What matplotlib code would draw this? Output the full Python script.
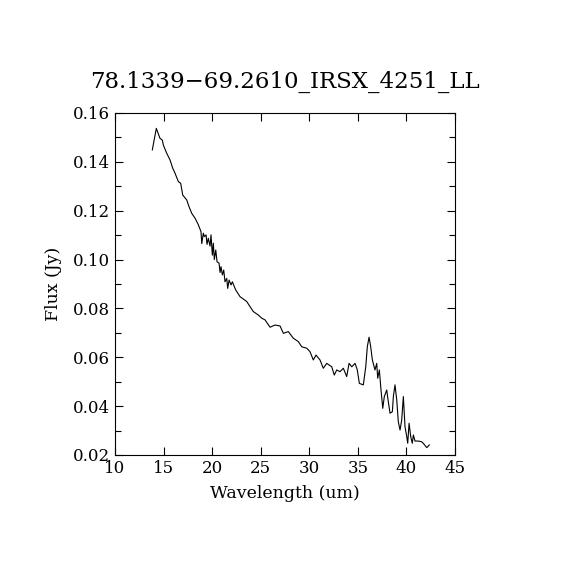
import matplotlib
matplotlib.use("Agg")
import matplotlib.pyplot as plt
from matplotlib.ticker import MultipleLocator

title = "78.1339\u221269.2610_IRSX_4251_LL"

# spectrum
wave = [13.84, 14.25, 14.63, 14.87, 14.97, 15.32, 15.66, 15.94, 16.18, 16.52,
        16.76, 16.97, 17.38, 17.62, 17.90, 18.24, 18.58, 18.85, 18.93, 19.09,
        19.19, 19.37, 19.47, 19.60, 19.78, 19.88, 20.02, 20.12, 20.22, 20.37,
        20.50, 20.71, 20.81, 20.91, 21.05, 21.19, 21.32, 21.50, 21.60, 21.74,
        21.94, 22.08, 22.28, 22.43, 22.87, 23.56, 23.90, 24.24, 24.75, 25.10,
        25.44, 25.96, 26.47, 26.99, 27.33, 27.84, 28.35, 28.87, 29.22, 29.73,
        30.07, 30.41, 30.69, 31.10, 31.44, 31.79, 32.31, 32.57, 32.82, 33.16,
        33.50, 33.85, 34.09, 34.37, 34.71, 34.94, 35.15, 35.56, 35.81, 35.97,
        36.15, 36.32, 36.49, 36.76, 36.94, 37.04, 37.21, 37.38, 37.56, 37.72,
        37.97, 38.13, 38.31, 38.55, 38.65, 38.82, 39.00, 39.16, 39.34, 39.51,
        39.68, 39.85, 40.03, 40.13, 40.27, 40.44, 40.60, 40.71, 40.88, 41.22,
        41.57, 41.81, 42.09, 42.35]
flux = [0.1449, 0.1537, 0.1496, 0.1489, 0.1469, 0.1435, 0.1408, 0.1374, 0.1353, 0.1319,
        0.1312, 0.1264, 0.1244, 0.1216, 0.1189, 0.1169, 0.1142, 0.1114, 0.1065, 0.1108,
        0.1094, 0.1101, 0.1062, 0.1087, 0.1055, 0.1101, 0.1018, 0.1067, 0.1000, 0.1039,
        0.0991, 0.0985, 0.0947, 0.0971, 0.0937, 0.0957, 0.0909, 0.0923, 0.0882, 0.0916,
        0.0896, 0.0909, 0.0889, 0.0875, 0.0848, 0.0828, 0.0807, 0.0787, 0.0773, 0.0760,
        0.0753, 0.0723, 0.0732, 0.0728, 0.0698, 0.0705, 0.0678, 0.0664, 0.0643, 0.0637,
        0.0623, 0.0589, 0.0609, 0.0589, 0.0555, 0.0575, 0.0561, 0.0527, 0.0548, 0.0541,
        0.0555, 0.0521, 0.0575, 0.0561, 0.0575, 0.0548, 0.0493, 0.0487, 0.0561, 0.0643,
        0.0682, 0.0643, 0.0589, 0.0548, 0.0575, 0.0514, 0.0548, 0.0466, 0.0391, 0.0439,
        0.0466, 0.0418, 0.0371, 0.0377, 0.0439, 0.0487, 0.0425, 0.0336, 0.0302, 0.0343,
        0.0439, 0.0316, 0.0275, 0.0248, 0.0330, 0.0275, 0.0248, 0.0282, 0.0257, 0.0257,
        0.0254, 0.0244, 0.0230, 0.0241]

plt.rcParams['font.family'] = ['DejaVu Serif']

fig = plt.figure(figsize=(5.7, 5.7), dpi=100)
ax = fig.add_axes([0.2018, 0.2018, 0.5965, 0.6])

ax.plot(wave, flux, color='black', lw=0.8)

ax.set_xlim(10, 45)
ax.set_ylim(0.02, 0.16)
ax.xaxis.set_major_locator(MultipleLocator(5))
ax.yaxis.set_major_locator(MultipleLocator(0.02))
ax.yaxis.set_minor_locator(MultipleLocator(0.01))
ax.tick_params(which='both', direction='in', top=True, right=True,
               labelsize=12, width=0.8)
ax.tick_params(which='major', length=6)
ax.tick_params(which='minor', length=4)
for s in ax.spines.values():
    s.set_linewidth(0.8)

ax.set_xlabel('Wavelength (um)', fontsize=12.5, labelpad=6)
ax.set_ylabel('Flux (Jy)', fontsize=12.5, labelpad=8)
ax.set_title(title, fontsize=16.5, pad=18)

fig.savefig('out.png', dpi=100)
